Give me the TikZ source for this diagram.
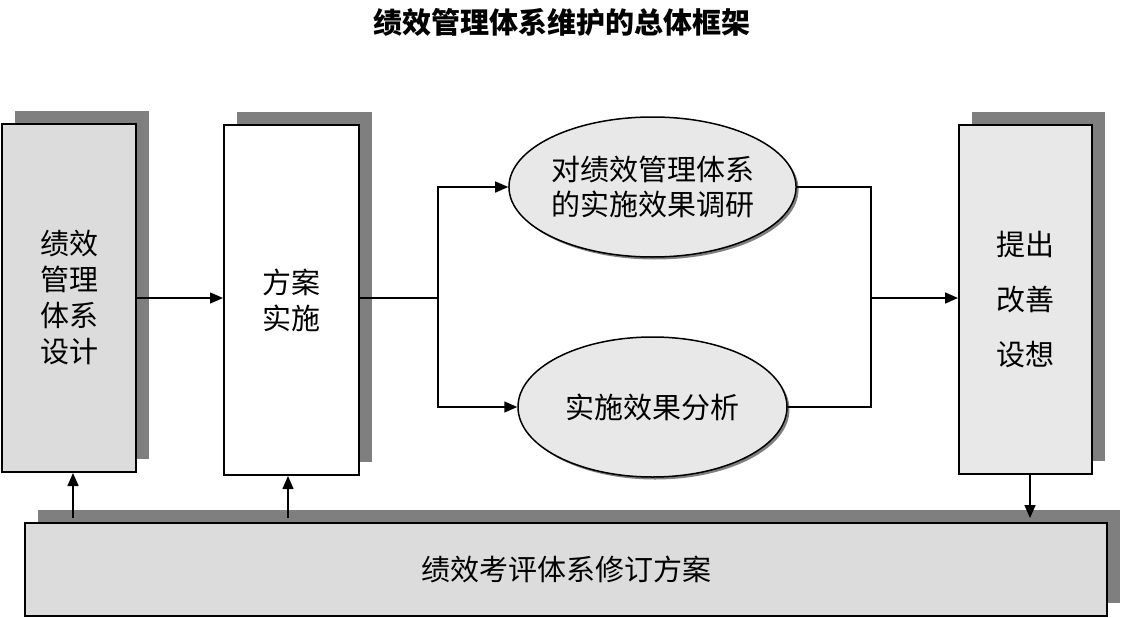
\documentclass[tikz,border=0pt]{standalone}
\usepackage{fontspec}
\setmainfont{Noto Sans CJK SC}
\usetikzlibrary{shapes.geometric,shadows,arrows.meta}
\definecolor{shd}{HTML}{7F7F7F}
\definecolor{boxa}{HTML}{DCDCDC}
\definecolor{boxb}{HTML}{E8E8E8}
\tikzset{
  bigshadow/.style={drop shadow={shadow xshift=13pt,shadow yshift=13pt,fill=shd,opacity=1}},
  box/.style={draw=black,line width=2pt,inner sep=0pt,align=center,font=\fontsize{29}{36}\selectfont,bigshadow},
  oval/.style={ellipse,draw=black,line width=1.5pt,fill=boxb,inner sep=0pt,align=center,
    minimum width=269pt,minimum height=140pt,font=\fontsize{29}{35}\selectfont,
    drop shadow={shadow xshift=2.5pt,shadow yshift=-2.5pt,fill=shd,opacity=1}},
  line/.style={draw=black,line width=1.5pt},
  arr/.style={line,-{Triangle[length=13pt,width=11pt]}},
}
\begin{document}
\begin{tikzpicture}[x=1pt,y=-1pt]
\useasboundingbox (0,0) rectangle (1121,618);
\node[font=\fontsize{29}{30}\selectfont\bfseries] (title) at (562,22) {绩效管理体系维护的总体框架};
\node[box,fill=boxa,minimum width=134pt,minimum height=348pt] (b1) at (69,298) {绩效\\管理\\体系\\设计};
\node[box,fill=white,minimum width=135pt,minimum height=350pt] (b2) at (291.5,300) {方案\\实施};
\node[box,fill=boxb,minimum width=133pt,minimum height=349pt,font=\fontsize{29}{55}\selectfont] (b3) at (1025.5,299.5) {提出\\改善\\设想};
\node[box,fill=boxa,minimum width=1082pt,minimum height=93pt] (bot) at (566,569.5) {绩效考评体系修订方案};
\node[oval] (e1) at (652.5,187) {对绩效管理体系\\的实施效果调研};
\node[oval] (e2) at (652.5,407) {实施效果分析};
% connectors
\draw[arr] (b1.east |- 0,298) -- (b2.west |- 0,298);
\coordinate (s) at (438,298);
\coordinate (m) at (871,298);
\draw[line] (b2.east |- s) -- (s);
\draw[arr] (s) |- (e1.west);
\draw[arr] (s) |- (e2.west);
\draw[line] (e1.east) -| (m);
\draw[line] (e2.east) -| (m);
\draw[arr] (m) -- (b3.west |- m);
\draw[arr] ([yshift=4pt]bot.north -| 73,0) -- (b1.south -| 73,0);
\draw[arr] ([yshift=4pt]bot.north -| 288,0) -- (b2.south -| 288,0);
\draw[arr] (b3.south -| 1030,0) -- ([yshift=4pt]bot.north -| 1030,0);
\end{tikzpicture}
\end{document}
